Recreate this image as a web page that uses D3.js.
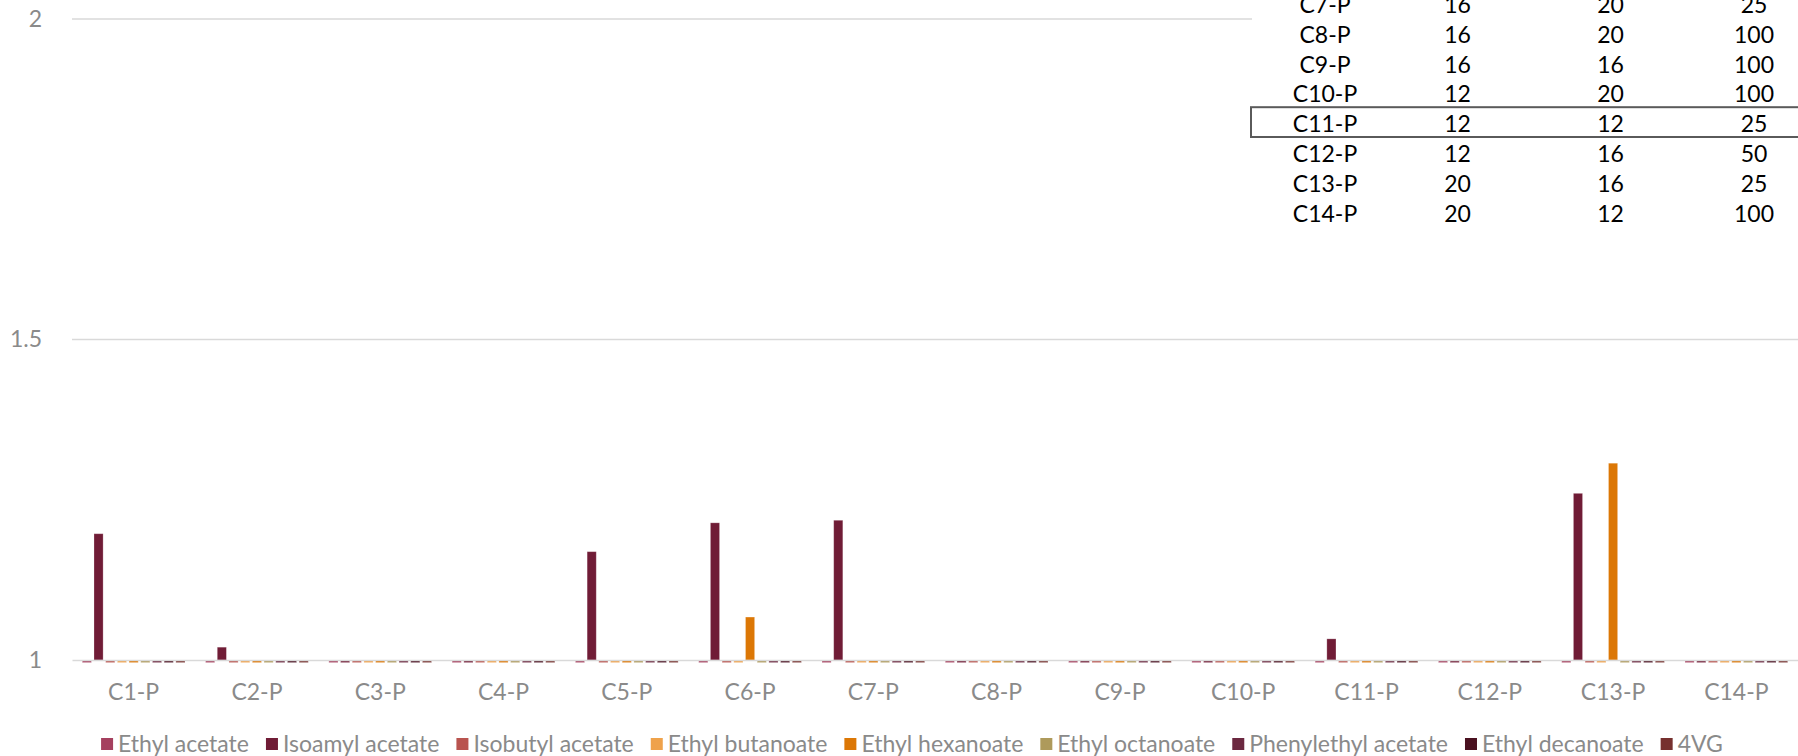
<!DOCTYPE html>
<html>
<head>
<meta charset="utf-8">
<script src="https://cdn.jsdelivr.net/npm/d3@7"></script>
<style>
  html, body { margin: 0; padding: 0; background: #ffffff; }
  svg { display: block; font-family: Lato, "Noto Sans", sans-serif; }
</style>
</head>
<body>
<svg id="chart" width="1798" height="756"></svg>
<script>
// Samples on the category axis
const categories = ["C1-P", "C2-P", "C3-P", "C4-P", "C5-P", "C6-P", "C7-P",
                    "C8-P", "C9-P", "C10-P", "C11-P", "C12-P", "C13-P", "C14-P"];

// Aroma compounds (series) and their fill colours
const seriesNames = ["Ethyl acetate", "Isoamyl acetate", "Isobutyl acetate", "Ethyl butanoate",
                     "Ethyl hexanoate", "Ethyl octanoate", "Phenylethyl acetate", "Ethyl decanoate", "4VG"];
const seriesColors = ["#A5405F", "#701C36", "#B9544F", "#EFA24B",
                      "#DC7705", "#AE9A5B", "#6B2840", "#4A1120", "#76302E"];

// Relative values per sample (C1-P ... C14-P)
const ethylAcetate      = [0.996, 0.996, 0.996, 0.996, 0.996, 0.996, 0.996, 0.996, 0.996, 0.996, 0.996, 0.996, 0.996, 0.996];
const isoamylAcetate    = [1.197, 1.020, 0.996, 0.996, 1.169, 1.214, 1.218, 0.996, 0.996, 0.996, 1.033, 0.996, 1.260, 0.996];
const isobutylAcetate   = [0.996, 0.996, 0.996, 0.996, 0.996, 0.996, 0.996, 0.996, 0.996, 0.996, 0.996, 0.996, 0.996, 0.996];
const ethylButanoate    = [0.996, 0.996, 0.996, 0.996, 0.996, 0.996, 0.996, 0.996, 0.996, 0.996, 0.996, 0.996, 0.996, 0.996];
const ethylHexanoate    = [0.996, 0.996, 0.996, 0.996, 0.996, 1.067, 0.996, 0.996, 0.996, 0.996, 0.996, 0.996, 1.307, 0.996];
const ethylOctanoate    = [0.996, 0.996, 0.996, 0.996, 0.996, 0.996, 0.996, 0.996, 0.996, 0.996, 0.996, 0.996, 0.996, 0.996];
const phenylethylAcetate= [0.996, 0.996, 0.996, 0.996, 0.996, 0.996, 0.996, 0.996, 0.996, 0.996, 0.996, 0.996, 0.996, 0.996];
const ethylDecanoate    = [0.996, 0.996, 0.996, 0.996, 0.996, 0.996, 0.996, 0.996, 0.996, 0.996, 0.996, 0.996, 0.996, 0.996];
const vinylguaiacol4    = [0.996, 0.996, 0.996, 0.996, 0.996, 0.996, 0.996, 0.996, 0.996, 0.996, 0.996, 0.996, 0.996, 0.996];

const yTicks = [1, 1.5, 2];

// Design table shown in the upper right corner
const tableRows = ["C7-P", "C8-P", "C9-P", "C10-P", "C11-P", "C12-P", "C13-P", "C14-P"];
const tableColA = [16, 16, 16, 12, 12, 12, 20, 20];
const tableColB = [20, 20, 16, 20, 12, 16, 16, 12];
const tableColC = [25, 100, 100, 100, 25, 50, 25, 100];
const highlightedRow = "C11-P";

const seriesValues = [ethylAcetate, isoamylAcetate, isobutylAcetate, ethylButanoate,
                      ethylHexanoate, ethylOctanoate, phenylethylAcetate, ethylDecanoate, vinylguaiacol4];
const series = seriesNames.map((name, i) => ({ name, color: seriesColors[i], values: seriesValues[i] }));

// ---- layout ----
const W = 1798, H = 756;
const plotLeft = 72, plotRight = 1798;
const FONT = 23;
const GRID = "#D9D9D9";
const TEXT = "#8A8A8A";

const svg = d3.select("#chart");

const x0 = d3.scaleBand().domain(categories).range([plotLeft, plotRight])
  .paddingInner(0.167).paddingOuter(0.0835);
const x1 = d3.scaleBand().domain(seriesNames).range([0, x0.bandwidth()])
  .paddingInner(0.22).paddingOuter(0);
const y = d3.scaleLinear().domain([1, 2]).range([660, 19]);

// gridlines
svg.append("g").selectAll("line").data(yTicks.filter(t => t !== 1)).join("line")
  .attr("x1", plotLeft).attr("x2", plotRight)
  .attr("y1", d => y(d)).attr("y2", d => y(d))
  .attr("stroke", GRID).attr("stroke-width", 1.5);

// y axis labels
const yAxis = svg.append("g").attr("transform", `translate(${plotLeft},0)`)
  .call(d3.axisLeft(y).tickValues(yTicks).tickSize(0).tickPadding(30).tickFormat(d => String(d)));
yAxis.select(".domain").remove();
yAxis.selectAll("text").attr("fill", TEXT).style("font-size", FONT + "px")
  .style("font-family", "Lato, 'Noto Sans', sans-serif");

// bars
const groups = svg.append("g").selectAll("g").data(series).join("g").attr("fill", d => d.color);
groups.selectAll("rect")
  .data(s => s.values.map((v, i) => ({ name: s.name, cat: categories[i], v })))
  .join("rect")
  .attr("x", d => x0(d.cat) + x1(d.name))
  .attr("width", x1.bandwidth())
  .attr("y", d => Math.min(y(d.v), y(1)))
  .attr("height", d => Math.abs(y(d.v) - y(1)))
  .attr("stroke", "#ffffff").attr("stroke-opacity", 0.3).attr("stroke-width", 0.8);

// category axis (line drawn over the bars)
const xAxis = svg.append("g").attr("transform", `translate(0,${y(1)})`)
  .call(d3.axisBottom(x0).tickSize(0).tickSizeOuter(0).tickPadding(24));
xAxis.select(".domain").attr("stroke", GRID).attr("stroke-width", 1.5);
xAxis.selectAll("text").attr("fill", TEXT).style("font-size", FONT + "px")
  .style("font-family", "Lato, 'Noto Sans', sans-serif");

// legend
const LEGEND_GAP = 17;
const legend = svg.append("g");
const legendItems = legend.selectAll("g").data(series).join("g");
legendItems.append("rect").attr("width", 12).attr("height", 12).attr("y", 738).attr("fill", d => d.color);
legendItems.append("text").attr("x", 17).attr("y", 744).attr("dy", "0.35em")
  .attr("fill", TEXT).style("font-size", FONT + "px").text(d => d.name);
let cursor = 0;
legendItems.each(function () {
  const g = d3.select(this);
  const w = 17 + g.select("text").node().getComputedTextLength();
  g.attr("transform", `translate(${cursor},0)`);
  cursor += w + LEGEND_GAP;
});
const legendWidth = cursor - LEGEND_GAP;
legend.attr("transform", `translate(${912 - legendWidth / 2},0)`);

// design table overlay
const table = svg.append("g");
table.append("rect").attr("x", 1252).attr("y", 0).attr("width", W - 1252).attr("height", 232).attr("fill", "#ffffff");
const rowScale = d3.scaleBand().domain(tableRows).range([-12, -12 + 29.8 * tableRows.length]);
const colCenters = [1325, 1457.5, 1610.5, 1754];
const tableData = tableRows.map((r, i) => [r, tableColA[i], tableColB[i], tableColC[i]]);
const rowsG = table.selectAll("g.row").data(tableData).join("g").attr("class", "row")
  .attr("transform", (d) => `translate(0,${rowScale(d[0]) + rowScale.bandwidth() / 2 + 2})`);
rowsG.selectAll("text").data(d => d).join("text")
  .attr("x", (d, i) => colCenters[i]).attr("dy", "0.35em").attr("text-anchor", "middle")
  .attr("fill", "#000000").style("font-size", FONT + "px").text(d => d);
table.append("rect")
  .attr("x", 1251).attr("y", rowScale(highlightedRow))
  .attr("width", W - 1251 + 4).attr("height", rowScale.bandwidth())
  .attr("fill", "none").attr("stroke", "#5A5A5A").attr("stroke-width", 2);
</script>
</body>
</html>
